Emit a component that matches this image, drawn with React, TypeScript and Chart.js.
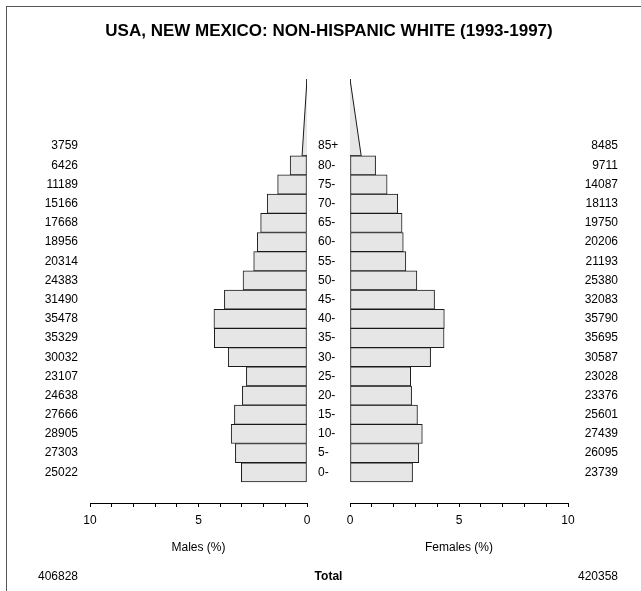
import React, { useEffect, useRef } from 'react';
import { Chart, registerables } from 'chart.js';

Chart.register(...registerables);

// ---------- data ----------
const TITLE = 'USA, NEW MEXICO: NON-HISPANIC WHITE (1993-1997)';
const AGE_GROUPS = ['0-', '5-', '10-', '15-', '20-', '25-', '30-', '35-', '40-', '45-', '50-', '55-', '60-', '65-', '70-', '75-', '80-', '85+'];
const MALE_COUNTS = [25022, 27303, 28905, 27666, 24638, 23107, 30032, 35329, 35478, 31490, 24383, 20314, 18956, 17668, 15166, 11189, 6426, 3759];
const FEMALE_COUNTS = [23739, 26095, 27439, 25601, 23376, 23028, 30587, 35695, 35790, 32083, 25380, 21193, 20206, 19750, 18113, 14087, 9711, 8485];
const MALE_TOTAL = 406828;
const FEMALE_TOTAL = 420358;
const X_TICK_LABELS = [0, 5, 10];
const MALE_AXIS_TITLE = 'Males (%)';
const FEMALE_AXIS_TITLE = 'Females (%)';
const TOTAL_LABEL = 'Total';

// ---------- derived ----------
const GRAND_TOTAL = MALE_TOTAL + FEMALE_TOTAL;
const pct = (c: number) => (c / GRAND_TOTAL) * 100;
const LAST = AGE_GROUPS.length - 1; // open-ended group drawn as a triangle
const OPEN_ROWS = 4; // triangle height in rows (area preserving)
const OPEN_BASE = LAST - 0.5;
const OPEN_TOP = OPEN_BASE + OPEN_ROWS;

// ---------- layout ----------
const Y_MIN = -1.6;
const Y_MAX = OPEN_TOP;
const TOTAL_ROW = -5.45;
const FONT = '"Liberation Sans", Arial, Helvetica, sans-serif';
const FS = 12;
const FILL = '#e6e6e6';
const EDGE = '#1a1a1a';

const rectIdx = AGE_GROUPS.map((_, i) => i).filter((i) => i !== LAST);

const ageLabelPlugin = {
  id: 'ageLabels',
  afterDraw(chart: any) {
    const { ctx, scales } = chart;
    const y = scales.y;
    const g = scales.xG;
    ctx.save();
    ctx.font = `${FS}px ${FONT}`;
    ctx.fillStyle = '#000';
    ctx.textAlign = 'left';
    ctx.textBaseline = 'middle';
    AGE_GROUPS.forEach((a, i) => ctx.fillText(a, g.left + 11, y.getPixelForValue(i)));
    ctx.restore();
  },
};

const countTicks = (s: any) => {
  s.ticks = [...AGE_GROUPS.map((_, i) => ({ value: i })), { value: TOTAL_ROW }];
};

const xAxisBase = (title: string, weight: number, stackWeight: number, reverse: boolean) => ({
  type: 'linear',
  axis: 'x',
  position: 'bottom',
  stack: 'bottom',
  stackWeight,
  weight,
  min: 0,
  max: 10,
  reverse,
  offset: false,
  afterFit: (s: any) => {
    s.height = 88;
  },
  grid: { display: true, drawOnChartArea: false, drawTicks: true, tickLength: 4, color: '#000', lineWidth: 1 },
  border: { display: true, color: '#000', width: 1 },
  ticks: {
    stepSize: 1,
    autoSkip: false,
    maxRotation: 0,
    padding: 6,
    color: '#000',
    font: { size: FS, family: FONT },
    callback: (v: number) => (X_TICK_LABELS.includes(v) ? String(v) : ''),
  },
  title: {
    display: true,
    text: title,
    color: '#000',
    font: { size: FS, family: FONT },
    padding: { top: 0, bottom: 35.8 },
  },
});

const triangle = (label: string, axis: string, count: number) => ({
  type: 'line',
  label,
  indexAxis: 'y',
  xAxisID: axis,
  yAxisID: 'y',
  data: [
    { x: 0, y: OPEN_TOP },
    { x: pct(count) / 2, y: OPEN_BASE },
    { x: 0, y: OPEN_BASE },
  ],
  fill: 'origin',
  backgroundColor: FILL,
  borderColor: EDGE,
  borderWidth: 1,
  pointRadius: 0,
  tension: 0,
});

const baseline = (label: string, axis: string) => ({
  type: 'line',
  label,
  indexAxis: 'y',
  xAxisID: axis,
  yAxisID: 'y',
  data: [
    { x: 0, y: OPEN_TOP },
    { x: 0, y: OPEN_BASE },
  ],
  fill: false,
  borderColor: EDGE,
  borderWidth: 1.5,
  pointRadius: 0,
});

const bars = (label: string, axis: string, counts: number[]) => ({
  type: 'bar',
  label,
  xAxisID: axis,
  yAxisID: 'y',
  data: rectIdx.map((i) => ({ x: pct(counts[i]), y: i })),
  backgroundColor: FILL,
  borderColor: EDGE,
  borderWidth: 1,
  borderSkipped: false,
  grouped: false,
  barPercentage: 1,
  categoryPercentage: 1,
});

const countAxis = (position: string, width: number, counts: number[], total: number, extra: any) => ({
  type: 'linear',
  axis: 'y',
  position,
  min: Y_MIN,
  max: Y_MAX,
  offset: false,
  afterBuildTicks: countTicks,
  afterFit: (s: any) => {
    s.width = width;
  },
  grid: { display: false, drawTicks: false },
  border: { display: false },
  ticks: {
    autoSkip: false,
    color: '#000',
    font: { size: FS, family: FONT },
    callback: (_v: any, i: number) => String(i < AGE_GROUPS.length ? counts[i] : total),
    ...extra,
  },
});

export default function App() {
  const ref = useRef<HTMLCanvasElement>(null);

  useEffect(() => {
    if (!ref.current) return;
    const chart = new Chart(ref.current, {
      type: 'bar',
      data: {
        datasets: [
          bars('Males', 'xM', MALE_COUNTS),
          bars('Females', 'xF', FEMALE_COUNTS),
          triangle('Males 85+', 'xM', MALE_COUNTS[LAST]),
          triangle('Females 85+', 'xF', FEMALE_COUNTS[LAST]),
          baseline('Males base', 'xM'),
          baseline('Females base', 'xF'),
        ] as any,
      },
      options: {
        indexAxis: 'y',
        responsive: false,
        animation: false,
        events: [],
        layout: { padding: { left: 0, right: 23, top: 0, bottom: 0 } },
        font: { family: FONT },
        plugins: {
          legend: { display: false },
          tooltip: { enabled: false },
          title: {
            display: true,
            text: TITLE,
            fullSize: false,
            color: '#000',
            font: { size: 17, weight: 'bold', family: FONT },
            padding: { top: 21.2, bottom: 37.4 },
          },
        },
        scales: {
          y: countAxis('left', 90, MALE_COUNTS, MALE_TOTAL, { padding: 12 }),
          yR: countAxis('right', 50, FEMALE_COUNTS, FEMALE_TOTAL, { padding: 0, crossAlign: 'far' }),
          xM: xAxisBase(MALE_AXIS_TITLE, 1, 217, true),
          xG: {
            type: 'linear',
            axis: 'x',
            position: 'bottom',
            stack: 'bottom',
            stackWeight: 43,
            weight: 2,
            min: 0,
            max: 1,
            afterFit: (s: any) => {
              s.height = 88;
            },
            grid: { display: false, drawTicks: false },
            border: { display: false },
            ticks: { display: false },
            title: {
              display: true,
              text: TOTAL_LABEL,
              color: '#000',
              font: { size: FS, weight: 'bold', family: FONT },
              padding: { top: 0, bottom: 6.8 },
            },
          },
          xF: xAxisBase(FEMALE_AXIS_TITLE, 3, 218, false),
        } as any,
      },
      plugins: [ageLabelPlugin],
    } as any);
    return () => chart.destroy();
  }, []);

  return (
    <div style={{ position: 'absolute', left: 0, top: 0, width: 641, height: 591, overflow: 'hidden', background: '#fff' }}>
      <canvas ref={ref} width={641} height={591} style={{ display: 'block', position: 'absolute', left: 0, top: 0 }} />
      <div
        style={{
          position: 'absolute',
          left: 6,
          top: 6,
          width: 635,
          height: 585,
          borderLeft: '1px solid #555',
          borderTop: '1px solid #555',
          boxSizing: 'border-box',
          pointerEvents: 'none',
        }}
      />
    </div>
  );
}
